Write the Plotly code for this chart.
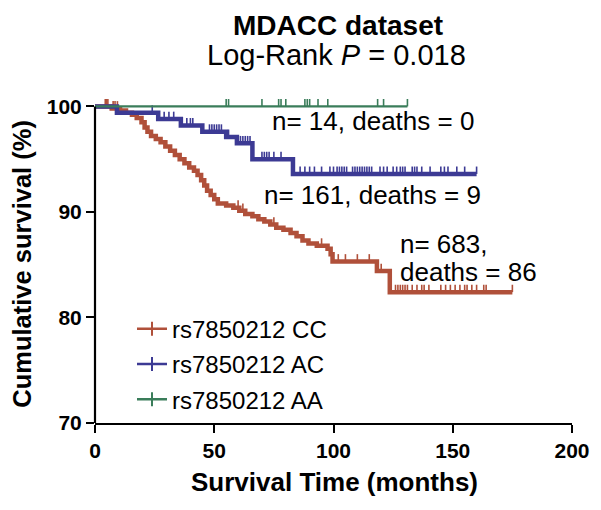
import numpy as np
import plotly.graph_objects as go

# ---------------- data ----------------
cc_times = [7.0, 10.5, 13.0, 15.5, 17.5, 19.5, 20.8, 22.0, 23.5, 25.5, 27.5, 29.5, 31.5,
            33.5, 35.5, 37.5, 39.5, 41.5, 43.0, 44.5, 45.8, 47.0, 48.5, 50.0, 51.5, 55.0,
            58.0, 60.5, 63.0, 66.0, 68.5, 71.0, 73.5, 76.0, 79.0, 82.0, 84.5, 87.0, 89.5,
            93.0, 97.5, 98.8, 99.6, 118.2, 123.6]
cc_surv = [99.8, 99.6, 99.4, 99.2, 98.9, 98.5, 98.0, 97.6, 97.2, 96.9, 96.6, 96.2, 95.8,
           95.4, 95.0, 94.6, 94.2, 93.9, 93.5, 93.0, 92.5, 92.0, 91.6, 91.2, 90.8, 90.6,
           90.4, 90.1, 89.8, 89.6, 89.3, 89.1, 88.8, 88.5, 88.3, 88.0, 87.7, 87.3, 87.0,
           86.8, 86.5, 86.0, 85.3, 84.4, 82.4]
cc_end = 175
cc_censor = [4.3, 4.9, 5.4, 7.6, 8.4, 9.4, 60, 62, 75, 95, 102, 105, 110, 115, 120,
             126, 127, 128, 129, 130, 131, 133, 135, 137, 138, 140, 145, 147, 149, 151,
             153, 155, 156, 158, 160, 163, 164, 175]

ac_times = [9.2, 26.5, 36.0, 45.0, 55.0, 59.5, 66.0, 83.0]
ac_surv = [99.4, 98.8, 98.2, 97.6, 97.1, 96.5, 95.0, 93.6]
ac_end = 160
ac_censor = [24, 29, 31, 33, 38.5, 40, 41, 48, 49, 50, 51, 52, 53, 56, 60, 61, 62, 63, 64,
             65, 70, 71, 72, 73, 75, 78, 86, 88, 90, 92, 95, 98.5, 100, 101.5, 102.5,
             103.5, 104.5, 105.5, 108, 109, 110, 111, 112, 113, 114, 115, 116, 119.5, 121,
             122.5, 125, 126.5, 128, 129, 130, 133, 134, 135, 137, 140.5, 145, 146.5, 148,
             151.7, 155, 160]

aa_times = []
aa_surv = []
aa_end = 131
aa_censor = [55, 56, 70, 77, 78, 80, 88, 89, 90, 93.5, 97.6, 118.5, 121, 131]

names = ["rs7850212 CC", "rs7850212 AC", "rs7850212 AA"]
colors = ["#B0503A", "#3C3A94", "#3A7D5A"]
labels_n = ["n= 683,", "deaths = 86", "n= 161, deaths = 9", "n= 14, deaths = 0"]
x_ticks = [0, 50, 100, 150, 200]
y_ticks = [70, 80, 90, 100]

# ---------------- helpers ----------------
def step_curve(times, surv, end):
    x = [0] + list(times) + [end]
    y = [100] + list(surv) + [surv[-1] if surv else 100]
    return x, y

def step_at(times, surv, t):
    idx = np.searchsorted(np.array(times, dtype=float), t, side="right") - 1
    return 100.0 if idx < 0 else surv[idx]

FONT = "Liberation Sans, Arial, sans-serif"
W, H = 601, 510
OFF = 8  # page body margin offset
RX0, RX1, RY0, RY1 = 95, 572, 93, 423.5
ML, MT = RX0 - OFF, RY0 - OFF
MR, MB = W - (RX1 - OFF), H - (RY1 - OFF)
PW, PH = RX1 - RX0, RY1 - RY0
TICK_H = 0.7  # censor tick height in axis units (drawn above the curve)

def px_x(px):
    return (px - RX0) / PW

def px_y(py):
    return (RY1 - py) / PH

fig = go.Figure()

groups = [(cc_times, cc_surv, cc_end, cc_censor, 4.5),
          (ac_times, ac_surv, ac_end, ac_censor, 4.5),
          (aa_times, aa_surv, aa_end, aa_censor, 2.2)]

for i, (tt, ss, end, cens, lw) in enumerate(groups):
    x, y = step_curve(tt, ss, end)
    fig.add_trace(go.Scatter(x=x, y=y, mode="lines", line=dict(color=colors[i], width=lw, shape="hv"),
                             showlegend=False, hoverinfo="skip"))
    tx, ty = [], []
    for t in cens:
        s = step_at(tt, ss, t)
        tx += [t, t, None]
        ty += [s, s + TICK_H, None]
    fig.add_trace(go.Scatter(x=tx, y=ty, mode="lines", showlegend=False, hoverinfo="skip",
                             line=dict(color=colors[i], width=1.6)))

for i in range(3):
    fig.add_trace(go.Scatter(x=[None], y=[None], mode="lines+markers", name=names[i],
                             legendgroup=str(i),
                             line=dict(color=colors[i], width=2.5),
                             marker=dict(symbol="line-ns", size=10, color=colors[i],
                                         line=dict(color=colors[i], width=2))))

# y axis line from 70 to 100 only
fig.add_shape(type="line", xref="paper", yref="y", x0=0, x1=0, y0=70, y1=100,
              line=dict(color="black", width=2.2))

ann = []
ann.append(dict(x=px_x(338), y=px_y(25), xref="paper", yref="paper", text="<b>MDACC dataset</b>",
                showarrow=False, font=dict(size=28, family=FONT, color="black"), xanchor="center", yanchor="middle"))
ann.append(dict(x=px_x(336), y=px_y(55), xref="paper", yref="paper", text="Log-Rank <i>P</i> = 0.018",
                showarrow=False, font=dict(size=29, family=FONT, color="black"), xanchor="center", yanchor="middle"))
ann.append(dict(x=px_x(22), y=px_y(264), xref="paper", yref="paper", text="<b>Cumulative survival (%)</b>",
                textangle=-90, showarrow=False, font=dict(size=25.5, family=FONT, color="black"),
                xanchor="center", yanchor="middle"))
ann.append(dict(x=px_x(334), y=px_y(483), xref="paper", yref="paper", text="<b>Survival Time (months)</b>",
                showarrow=False, font=dict(size=26, family=FONT, color="black"), xanchor="center", yanchor="middle"))
ann.append(dict(x=127.0, y=86.94, text=labels_n[0], showarrow=False, xanchor="left", yanchor="middle",
                font=dict(size=26, family=FONT, color="black")))
ann.append(dict(x=127.0, y=84.3, text=labels_n[1], showarrow=False, xanchor="left", yanchor="middle",
                font=dict(size=26, family=FONT, color="black")))
ann.append(dict(x=70.0, y=91.6, text=labels_n[2], showarrow=False, xanchor="left", yanchor="middle",
                font=dict(size=26, family=FONT, color="black")))
ann.append(dict(x=73.3, y=98.6, text=labels_n[3], showarrow=False, xanchor="left", yanchor="middle",
                font=dict(size=26, family=FONT, color="black")))

fig.update_layout(
    width=W, height=H,
    margin=dict(l=ML, r=MR, t=MT, b=MB, pad=0),
    paper_bgcolor="white", plot_bgcolor="white",
    annotations=ann,
    showlegend=True,
    legend=dict(x=px_x(132), y=px_y(307), xanchor="left", yanchor="top",
                bgcolor="rgba(0,0,0,0)", font=dict(size=24, family=FONT, color="black"),
                traceorder="grouped", tracegroupgap=1, itemwidth=30),
    xaxis=dict(range=[0, 200], tickvals=x_ticks, ticktext=[str(v) for v in x_ticks],
               showline=True, linecolor="black", linewidth=2.2, ticks="outside", ticklen=8,
               tickwidth=2.2, tickcolor="black", showgrid=False, zeroline=False,
               tickfont=dict(size=21, family=FONT, color="black", weight="bold")),
    yaxis=dict(range=[70, 70 + PH / 10.57], tickvals=y_ticks, ticktext=[str(v) for v in y_ticks],
               showline=False, ticks="outside", ticklen=8, tickwidth=2.2, tickcolor="black",
               showgrid=False, zeroline=False,
               tickfont=dict(size=21, family=FONT, color="black", weight="bold")),
)

fig.write_html("out.html")
